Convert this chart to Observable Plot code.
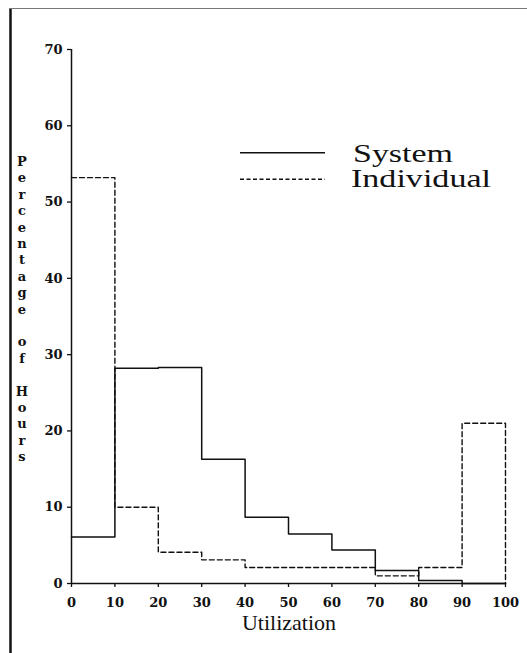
<!DOCTYPE html>
<html><head><meta charset="utf-8">
<script src="https://cdn.jsdelivr.net/npm/d3@7"></script>
<script src="https://cdn.jsdelivr.net/npm/@observablehq/plot@0.6"></script>
<style>
html,body{margin:0;padding:0;background:#fff;}
#chart{position:relative;width:527px;height:653px;}
</style></head><body><div id="chart"></div>
<script>
// Bin starts (utilization %), each bin is 10 wide
const binStarts = [0, 10, 20, 30, 40, 50, 60, 70, 80, 90];
const binEnd = 100;
// Percentage of hours per bin
const systemPct = [6.1, 28.2, 28.3, 16.3, 8.7, 6.5, 4.4, 1.7, 0.4, 0];
const individualPct = [53.2, 10, 4.1, 3.1, 2.1, 2.1, 2.1, 1.0, 2.1, 21.0];
const xTicks = [0, 10, 20, 30, 40, 50, 60, 70, 80, 90, 100];
const yTicks = [0, 10, 20, 30, 40, 50, 60, 70];
const seriesNames = ["System", "Individual"];
const yLabel = "Percentage of Hours";
const xLabel = "Utilization";

function steps(values, closeToZero) {
  const pts = binStarts.map((b, i) => ({x: b, y: values[i]}));
  pts.push({x: binEnd, y: values[values.length - 1]});
  if (closeToZero) pts.push({x: binEnd, y: 0});
  return pts;
}

const plot = Plot.plot({
  width: 527, height: 653,
  marginLeft: 71, marginRight: 22, marginTop: 49, marginBottom: 70,
  x: {domain: [0, 100]},
  y: {domain: [0, 70]},
  style: {fontFamily: "DejaVu Serif", fontSize: "13px", fontWeight: "bold", color: "#111", background: "white", overflow: "visible"},
  marks: [
    Plot.axisX({ticks: xTicks, tickSize: 4, tickPadding: 10, label: null, strokeWidth: 1.3}),
    Plot.axisY({ticks: yTicks, tickSize: 4, tickPadding: 5, label: null, strokeWidth: 1.3}),
    Plot.ruleY([0], {strokeWidth: 1.5, stroke: "#111"}),
    Plot.ruleX([0], {strokeWidth: 1.5, stroke: "#111"}),
    Plot.line(steps(systemPct, false), {x: "x", y: "y", curve: "step-after", stroke: "#111", strokeWidth: 1.5}),
    Plot.line(steps(individualPct, true), {x: "x", y: "y", curve: "step-after", stroke: "#111", strokeWidth: 1.4, strokeDasharray: "5,3"})
  ]
});
document.getElementById("chart").appendChild(plot);

const svg = d3.select(plot);
// page frame (left and top rules of the scanned box)
svg.append("line").attr("x1", 10.5).attr("x2", 10.5).attr("y1", 8).attr("y2", 653)
  .attr("stroke", "#111").attr("stroke-width", 2.5);
svg.append("line").attr("x1", 9).attr("x2", 527).attr("y1", 8.5).attr("y2", 8.5)
  .attr("stroke", "#777").attr("stroke-width", 1);

// stacked vertical y label
Array.from(yLabel).forEach((ch, i) => {
  if (ch === " ") return;
  svg.append("text").attr("x", 22).attr("y", 166 + 16.4 * i)
    .attr("text-anchor", "middle")
    .attr("font-family", "DejaVu Serif").attr("font-weight", "bold").attr("font-size", 13)
    .attr("fill", "#111").text(ch);
});

// x label
svg.append("text").attr("x", 289).attr("y", 630).attr("text-anchor", "middle")
  .attr("font-family", "Liberation Serif").attr("font-weight", "normal").attr("font-size", 22)
  .attr("fill", "#111").text(xLabel);

// legend
const legendRows = [
  {name: seriesNames[0], y: 152.7, dash: null, ty: 162, tx: 353, w: 100},
  {name: seriesNames[1], y: 179.3, dash: "4,2.5", ty: 187, tx: 351, w: 140}
];
legendRows.forEach(r => {
  const l = svg.append("line").attr("x1", 240).attr("x2", 325).attr("y1", r.y).attr("y2", r.y)
    .attr("stroke", "#111").attr("stroke-width", 1.5);
  if (r.dash) l.attr("stroke-dasharray", r.dash);
  svg.append("text").attr("x", r.tx).attr("y", r.ty).attr("text-anchor", "start")
    .attr("font-family", "Liberation Serif").attr("font-weight", "normal").attr("font-size", 26)
    .attr("textLength", r.w).attr("lengthAdjust", "spacingAndGlyphs")
    .attr("fill", "#111").text(r.name);
});
</script>
</body></html>
